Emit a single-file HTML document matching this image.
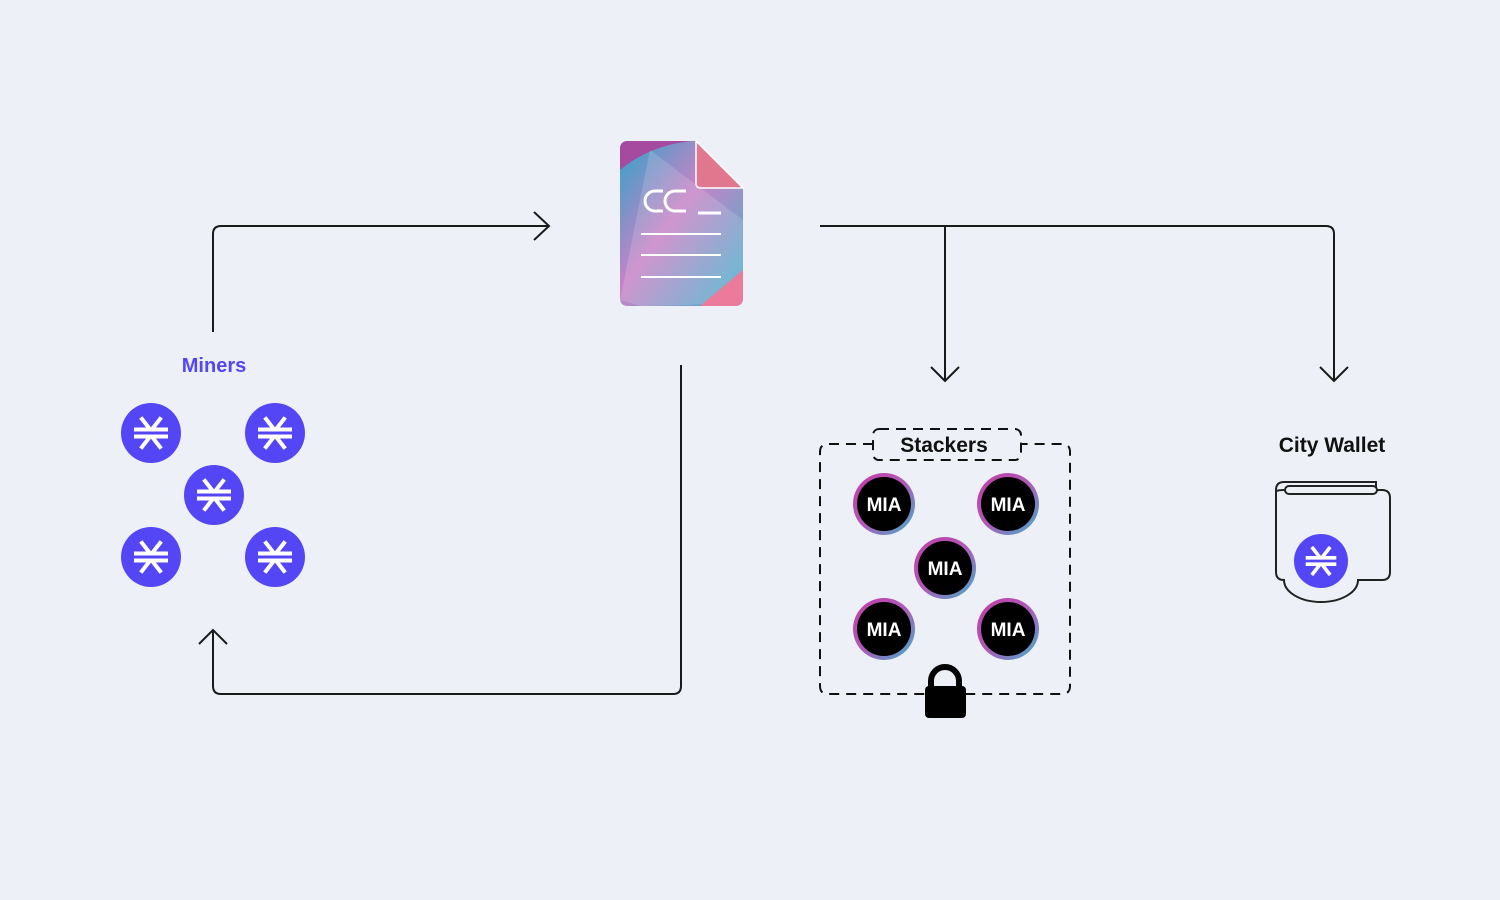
<!DOCTYPE html>
<html><head><meta charset="utf-8"><style>
html,body{margin:0;padding:0;background:#edf1f7;}
svg{display:block}
text{font-family:"Liberation Sans",sans-serif;font-weight:bold}
</style></head><body>
<svg width="1500" height="900" viewBox="0 0 1500 900" xmlns="http://www.w3.org/2000/svg">
<defs>
<symbol id="stx" viewBox="-30 -30 60 60">
<circle r="30" fill="#5546f5"/>
<g stroke="#fff" stroke-width="4" fill="none" stroke-linecap="square">
<line x1="-15" y1="-3.5" x2="15" y2="-3.5"/><line x1="-15" y1="3.5" x2="15" y2="3.5"/>
<line x1="-9" y1="-14" x2="-2" y2="-5"/><line x1="9" y1="-14" x2="2" y2="-5"/>
<line x1="-9" y1="14" x2="-2" y2="5"/><line x1="9" y1="14" x2="2" y2="5"/>
</g></symbol>
<linearGradient id="ring" x1="0" y1="0" x2="1" y2="1">
<stop offset="0" stop-color="#c23aa8"/><stop offset="0.5" stop-color="#b05ab8"/><stop offset="1" stop-color="#3cb2cc"/></linearGradient>
<symbol id="mia" viewBox="-32 -32 64 64">
<circle r="31" fill="url(#ring)"/><circle r="27" fill="#000"/>
<text x="0" y="7" text-anchor="middle" font-size="19" fill="#fff">MIA</text></symbol>
<linearGradient id="doc" x1="0" y1="0" x2="1" y2="1">
<stop offset="0" stop-color="#2ea4c8"/><stop offset="0.45" stop-color="#c783c6"/><stop offset="1" stop-color="#3fb5cc"/></linearGradient>
</defs>

<g stroke="#1a1a1a" stroke-width="2" fill="none">
<path d="M213 332 V234 Q213 226 221 226 H549"/>
<path d="M534 212 L549 226 L534 240"/>
<path d="M820 226 H1326 Q1334 226 1334 234 V381"/>
<path d="M945 226 V381"/>
<path d="M931 367 L945 381 L959 367"/>
<path d="M1320 367 L1334 381 L1348 367"/>
<path d="M681 365 V686 Q681 694 673 694 H221 Q213 694 213 686 V630"/>
<path d="M199 644 L213 630 L227 644"/>
</g>

<!-- document -->
<path d="M628 141 H696 L743 188 V298 Q743 306 735 306 H628 Q620 306 620 298 V149 Q620 141 628 141Z" fill="url(#doc)"/>
<path d="M628 141 H692 Q650 145 620 170 V149 Q620 141 628 141Z" fill="#a54a9e"/>
<path d="M650 150 L743 220 V300 Q700 306 640 306 L620 300 Z" fill="#ffffff" opacity="0.15"/>
<path d="M743 270 V298 Q743 306 735 306 H700 Z" fill="#ec7a9a"/>
<path d="M696 141 V183 Q696 188 701 188 H743 Z" fill="#e0778e" stroke="#fff" stroke-width="1.5"/>
<g stroke="#fff" stroke-width="3" fill="none">
<path d="M663 191 H655 A10 10 0 0 0 655 211 H663"/>
<path d="M686 191 H675 A10 10 0 0 0 675 211 H686"/>
<line x1="698" y1="213" x2="721" y2="213"/>
</g>
<g stroke="#fff" stroke-width="2" fill="none">
<line x1="641" y1="234" x2="721" y2="234"/>
<line x1="641" y1="255" x2="721" y2="255"/>
<line x1="641" y1="277" x2="721" y2="277"/>
</g>

<!-- miners -->
<text x="214" y="372" text-anchor="middle" font-size="20" fill="#5546f5">Miners</text>
<use href="#stx" x="121" y="403" width="60" height="60"/>
<use href="#stx" x="245" y="403" width="60" height="60"/>
<use href="#stx" x="184" y="465" width="60" height="60"/>
<use href="#stx" x="121" y="527" width="60" height="60"/>
<use href="#stx" x="245" y="527" width="60" height="60"/>

<!-- stackers -->
<g stroke="#111" stroke-width="2" fill="none" stroke-dasharray="10 7">
<path d="M873 444 H828 Q820 444 820 452 V686 Q820 694 828 694 H1062 Q1070 694 1070 686 V452 Q1070 444 1062 444 H1021"/>
<rect x="873" y="429" width="148" height="31" rx="6"/>
</g>
<text x="944" y="452" text-anchor="middle" font-size="21" fill="#111">Stackers</text>
<use href="#mia" x="852" y="472" width="64" height="64"/>
<use href="#mia" x="976" y="472" width="64" height="64"/>
<use href="#mia" x="913" y="536" width="64" height="64"/>
<use href="#mia" x="852" y="597" width="64" height="64"/>
<use href="#mia" x="976" y="597" width="64" height="64"/>
<rect x="925" y="686" width="41" height="32" rx="4" fill="#000"/>
<path d="M931 688 V681 A14 14 0 0 1 959 681 V688" stroke="#000" stroke-width="6" fill="none"/>

<!-- wallet -->
<text x="1332" y="452" text-anchor="middle" font-size="21" fill="#111">City Wallet</text>
<g stroke="#222" stroke-width="2" fill="#edf1f7">
<path d="M1276 572 V490 Q1276 482 1284 482 H1376 V490"/>
<path d="M1276 492 Q1276 490 1284 490 H1382 Q1390 490 1390 498 V572 Q1390 580 1382 580 H1358 A37 22 0 0 1 1284 580 Q1276 580 1276 572 Z"/>
<rect x="1285" y="486" width="92" height="8" rx="4"/>
</g>
<use href="#stx" x="1294" y="534" width="54" height="54"/>
</svg>
</body></html>
